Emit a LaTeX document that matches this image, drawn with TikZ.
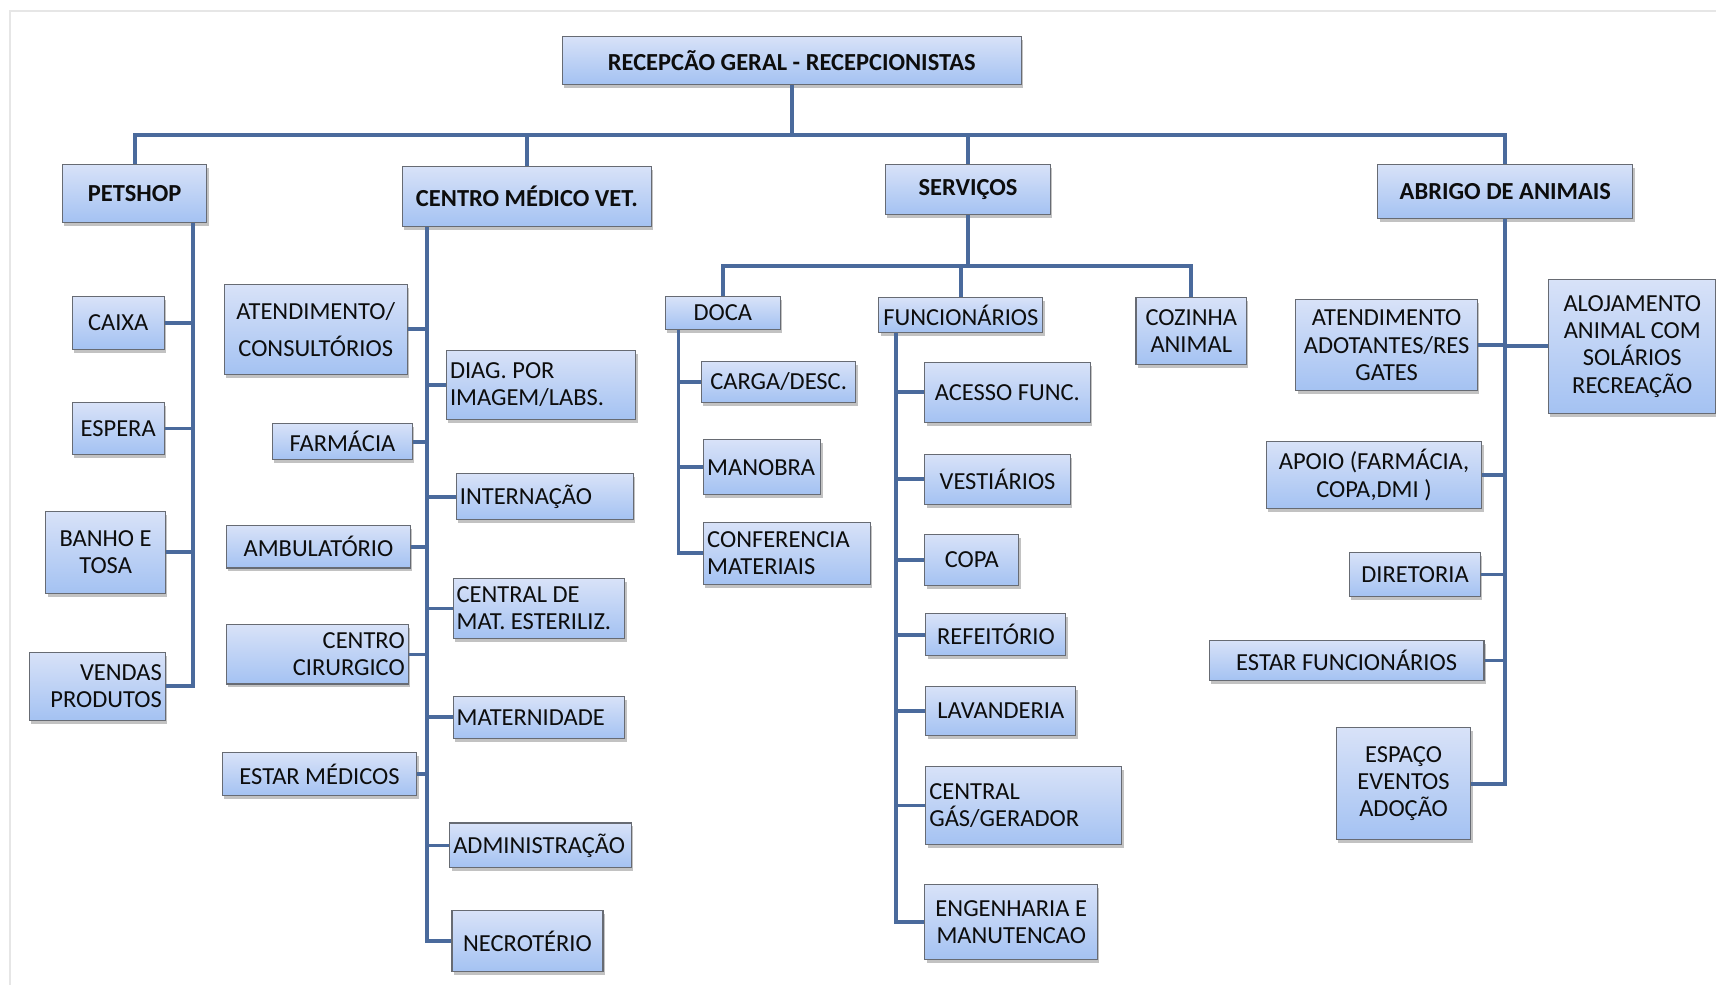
\documentclass[tikz,border=0pt]{standalone}
\usepackage{fontspec}
\setmainfont{Carlito}
\usetikzlibrary{shadows}
\definecolor{boxtop}{HTML}{D8E2F8}
\definecolor{boxbot}{HTML}{A4C2F2}
\definecolor{boxline}{HTML}{676B73}
\definecolor{linkblue}{HTML}{4A6A9C}
\definecolor{framegray}{HTML}{E6E6E6}
\hyphenpenalty=10000
\tikzset{
  box/.style={draw=boxline, line width=0.6pt, top color=boxtop, bottom color=boxbot,
    drop shadow={shadow xshift=1pt, shadow yshift=-2pt, opacity=0.4, fill=black!60},
    inner xsep=2pt, inner ysep=0pt, align=flush center, text=black!95,
    font=\fontsize{14}{15.6}\selectfont},
  head/.style={box, font=\fontsize{14}{16}\selectfont\bfseries},
  sz/.style 2 args={text width=#1*0.22mm-4pt, minimum height=#2*0.22mm},
  link/.style={draw=linkblue, line width=2.2pt},
}
\begin{document}
\begin{tikzpicture}[x=0.22mm, y=-0.22mm]
\useasboundingbox (0,0) rectangle (1568,900);
\draw[framegray, line width=0.8pt] (9,900) |- (1568,10);
% main levels
\node[head, sz={419}{44}] (recep) at (723.5,55) {RECEPCÃO GERAL - RECEPCIONISTAS};
\node[head, sz={132}{53}] (pet) at (123,176.5) {PETSHOP};
\node[head, sz={227}{55}] (cmv) at (481.5,179.5) {CENTRO MÉDICO VET.};
\node[head, sz={151}{46}] (serv) at (884.5,173) {SERVIÇOS};
\node[head, sz={233}{50}] (abrigo) at (1375.5,175) {ABRIGO DE ANIMAIS};
% petshop
\node[box, sz={84}{48}] (caixa) at (108,295) {CAIXA};
\node[box, sz={84}{47}] (espera) at (108,391.5) {ESPERA};
\node[box, sz={109}{75}] (banho) at (96.5,504.5) {BANHO E\\TOSA};
\node[box, sz={124}{62}, align=flush right] (vendas) at (89,627) {VENDAS\\PRODUTOS};
% centro medico
\node[box, sz={167}{82}] (atend) at (288.5,301) {ATENDIMENTO/\\[5.6pt]CONSULTÓRIOS};
\node[box, sz={128}{33}] (farm) at (313,403.5) {FARMÁCIA};
\node[box, sz={168}{39}] (ambul) at (291,499.5) {AMBULATÓRIO};
\node[box, sz={166}{54}, align=flush right] (cirurg) at (290,598) {CENTRO\\CIRURGICO};
\node[box, sz={178}{39}] (estmed) at (292,707.5) {ESTAR MÉDICOS};
\node[box, sz={173}{63}, align=flush left] (diag) at (494.5,351.5) {DIAG. POR\\IMAGEM/LABS.};
\node[box, sz={162}{42}, align=flush left] (intern) at (498,454) {INTERNAÇÃO};
\node[box, sz={157}{54}, align=flush left] (cme) at (492.5,556) {CENTRAL DE\\MAT. ESTERILIZ.};
\node[box, sz={157}{39}, align=flush left] (matern) at (492.5,655.5) {MATERNIDADE};
\node[box, sz={166}{41}, align=flush left] (admin) at (494,772.5) {ADMINISTRAÇÃO};
\node[box, sz={138}{56}] (necro) at (482,860) {NECROTÉRIO};
% servicos
\node[box, sz={105}{30}] (doca) at (660.5,286) {DOCA};
\node[box, sz={150}{32}] (func) at (878,288) {FUNCIONÁRIOS};
\node[box, sz={101}{61}] (cozinha) at (1088.5,302.5) {COZINHA\\ANIMAL};
\node[box, sz={141}{38}] (carga) at (711.5,349) {CARGA/DESC.};
\node[box, sz={107}{50}, align=flush left] (manobra) at (696.5,427) {MANOBRA};
\node[box, sz={152}{57}, align=flush left] (confer) at (719,505.5) {CONFERENCIA\\MATERIAIS};
\node[box, sz={151}{55}] (acesso) at (920.5,358.5) {ACESSO FUNC.};
\node[box, sz={133}{46}] (vest) at (911.5,438) {VESTIÁRIOS};
\node[box, sz={86}{47}] (copa) at (888,511.5) {COPA};
\node[box, sz={128}{38}] (refeit) at (910,580) {REFEITÓRIO};
\node[box, sz={137}{45}] (lavand) at (914.5,649.5) {LAVANDERIA};
\node[box, sz={179}{72}, align=flush left] (gas) at (935.5,736) {CENTRAL\\GÁS/GERADOR};
\node[box, sz={158}{69}] (engen) at (924,842.5) {ENGENHARIA E\\MANUTENCAO};
% abrigo
\node[box, sz={166}{83}] (atendad) at (1267,315.5) {ATENDIMENTO\\ADOTANTES/RES\\GATES};
\node[box, sz={153}{123}] (aloj) at (1491.5,316.5) {ALOJAMENTO\\ANIMAL COM\\SOLÁRIOS\\RECREAÇÃO};
\node[box, sz={197}{62}] (apoio) at (1255.5,434) {APOIO (FARMÁCIA,\\COPA,DMI )};
\node[box, sz={120}{40}] (diret) at (1293,525) {DIRETORIA};
\node[box, sz={251}{37}] (estfunc) at (1230.5,603.5) {ESTAR FUNCIONÁRIOS};
\node[box, sz={123}{102}] (espaco) at (1282.5,716) {ESPAÇO\\EVENTOS\\ADOÇÃO};
% connectors
\coordinate (tbus) at (723.5,123);
\draw[link] (recep.south) -- (tbus);
\foreach \n in {pet,cmv,serv,abrigo} \draw[link] (tbus) -| (\n.north);
\coordinate (petsp) at (176,203);
\draw[link] (pet.south -| petsp) |- (vendas.east);
\foreach \n in {caixa,espera,banho} \draw[link] (\n.east) -- (\n.east -| petsp);
\coordinate (cmvsp) at (390,207);
\draw[link] (cmv.south -| cmvsp) |- (necro.west);
\foreach \n in {atend,farm,ambul,cirurg,estmed} \draw[link] (\n.east) -- (\n.east -| cmvsp);
\foreach \n in {diag,intern,cme,matern,admin} \draw[link] (\n.west) -- (\n.west -| cmvsp);
\coordinate (sbus) at (884.5,243);
\draw[link] (serv.south) -- (sbus);
\foreach \n in {doca,func,cozinha} \draw[link] (sbus) -| (\n.north);
\coordinate (docasp) at (620,301);
\draw[link] (doca.south -| docasp) |- (confer.west);
\foreach \n in {carga,manobra} \draw[link] (\n.west) -- (\n.west -| docasp);
\coordinate (funcsp) at (819,304);
\draw[link] (func.south -| funcsp) |- (engen.west);
\foreach \n in {acesso,vest,copa,refeit,lavand,gas} \draw[link] (\n.west) -- (\n.west -| funcsp);
\draw[link] (abrigo.south) |- (espaco.east);
\foreach \n in {atendad,apoio,diret,estfunc} \draw[link] (\n.east) -- (\n.east -| abrigo.south);
\draw[link] (aloj.west) -- (aloj.west -| abrigo.south);
\end{tikzpicture}
\end{document}
